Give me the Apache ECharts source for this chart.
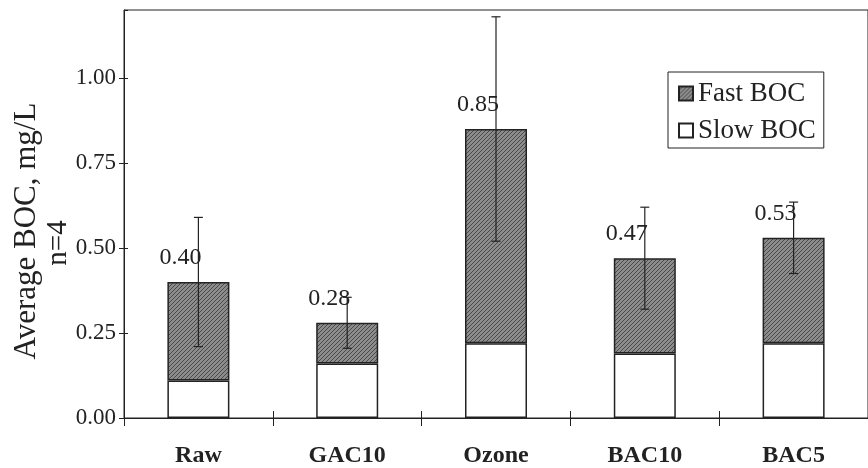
<!DOCTYPE html>
<html>
<head>
<meta charset="utf-8">
<script src="https://cdn.jsdelivr.net/npm/echarts@6/dist/echarts.min.js"></script>
<style>
  html, body { margin: 0; padding: 0; background: #fff; }
  #chart { width: 868px; height: 468px; }
</style>
</head>
<body>
<div id="chart"></div>
<script>
// Average biodegradable organic carbon per treatment (mg/L, n=4)
const categories = ['Raw', 'GAC10', 'Ozone', 'BAC10', 'BAC5'];
const slowBOC = [0.11, 0.16, 0.22, 0.19, 0.22];
const fastBOC = [0.29, 0.12, 0.63, 0.28, 0.31];
const stdDev = [0.19, 0.075, 0.33, 0.15, 0.105];
const yTicks = [0, 0.25, 0.5, 0.75, 1.0];

const totals = slowBOC.map((s, i) => s + fastBOC[i]);
const SERIF = '"Liberation Serif", "DejaVu Serif", serif';
const INK = '#222222';

// fine diagonal hatching used for the fast fraction
function hatch() {
  const c = document.createElement('canvas');
  c.width = 4; c.height = 4;
  const g = c.getContext('2d');
  g.fillStyle = '#8c8c8c';
  g.fillRect(0, 0, 4, 4);
  g.fillStyle = '#4a4a4a';
  for (let i = 0; i < 4; i++) g.fillRect(i, 3 - i, 1, 1);
  return c;
}
const hatchFill = { image: hatch(), repeat: 'repeat' };

const chart = echarts.init(document.getElementById('chart'));

chart.setOption({
  backgroundColor: '#ffffff',
  animation: false,
  grid: {
    left: 124, top: 10, width: 750, height: 410,
    show: true, borderColor: INK, borderWidth: 1, backgroundColor: 'transparent'
  },
  legend: {
    orient: 'vertical',
    left: 668, top: 72,
    padding: [8, 8, 4, 10],
    borderColor: INK, borderWidth: 1,
    itemWidth: 14, itemHeight: 14, itemGap: 10,
    icon: 'rect',
    textStyle: { fontFamily: SERIF, fontSize: 27, lineHeight: 27, color: INK },
    data: ['Fast BOC', 'Slow BOC']
  },
  xAxis: [{
    type: 'category',
    data: categories,
    axisLine: { lineStyle: { color: INK, width: 1 } },
    axisTick: { show: true, length: 8, lineStyle: { color: INK } },
    axisLabel: { fontFamily: SERIF, fontSize: 24, fontWeight: 'bold', color: INK, margin: 26 },
    splitLine: { show: false }
  }, {
    type: 'category',
    data: categories,
    position: 'bottom',
    axisLine: { show: false },
    axisTick: { show: true, inside: true, length: 7, lineStyle: { color: INK } },
    axisLabel: { show: false },
    splitLine: { show: false }
  }],
  yAxis: [{
    type: 'value',
    min: 0, max: 1.2, interval: 0.25,
    axisLine: { show: true, lineStyle: { color: INK, width: 1 } },
    axisTick: { show: true, length: 5, lineStyle: { color: INK } },
    axisLabel: {
      fontFamily: SERIF, fontSize: 23, color: INK, margin: 8,
      showMaxLabel: false,
      formatter: v => yTicks.some(t => Math.abs(t - v) < 1e-9) ? v.toFixed(2) : ''
    },
    splitLine: { show: false }
  }, {
    type: 'value',
    min: 0, max: 1.2, interval: 0.25,
    position: 'left',
    axisLine: { show: false },
    axisTick: { show: true, inside: true, length: 4, lineStyle: { color: INK } },
    axisLabel: { show: false },
    splitLine: { show: false }
  }],
  graphic: [
    {
      type: 'text', x: 27, y: 231, rotation: Math.PI / 2,
      style: { text: 'Average BOC, mg/L', fontFamily: SERIF, fontSize: 31, fill: INK,
               textAlign: 'center', textVerticalAlign: 'middle' }
    },
    {
      type: 'text', x: 58, y: 243, rotation: Math.PI / 2,
      style: { text: 'n=4', fontFamily: SERIF, fontSize: 29, fill: INK,
               textAlign: 'center', textVerticalAlign: 'middle' }
    }
  ],
  series: [
    {
      name: 'Slow BOC',
      type: 'bar',
      stack: 'boc',
      barWidth: 62,
      data: slowBOC,
      itemStyle: { color: '#ffffff', borderColor: INK, borderWidth: 1.5 }
    },
    {
      name: 'Fast BOC',
      type: 'bar',
      stack: 'boc',
      barWidth: 62,
      data: fastBOC,
      itemStyle: { color: hatchFill, borderColor: INK, borderWidth: 1.5 },
      label: {
        show: true,
        position: 'top',
        offset: [-18, -7],
        fontFamily: SERIF, fontSize: 24, color: INK,
        formatter: p => totals[p.dataIndex].toFixed(2)
      }
    },
    {
      name: 'error',
      type: 'custom',
      z: 5,
      data: categories.map((c, i) => [i, totals[i], stdDev[i]]),
      renderItem: (params, api) => {
        const i = api.value(0), m = api.value(1), e = api.value(2);
        const hi = api.coord([i, m + e]);
        const lo = api.coord([i, m - e]);
        const cap = 4.5;
        const st = { stroke: INK, lineWidth: 1.2 };
        return {
          type: 'group',
          children: [
            { type: 'line', shape: { x1: hi[0], y1: hi[1], x2: lo[0], y2: lo[1] }, style: st },
            { type: 'line', shape: { x1: hi[0] - cap, y1: hi[1], x2: hi[0] + cap, y2: hi[1] }, style: st },
            { type: 'line', shape: { x1: lo[0] - cap, y1: lo[1], x2: lo[0] + cap, y2: lo[1] }, style: st }
          ]
        };
      }
    }
  ]
});
</script>
</body>
</html>
